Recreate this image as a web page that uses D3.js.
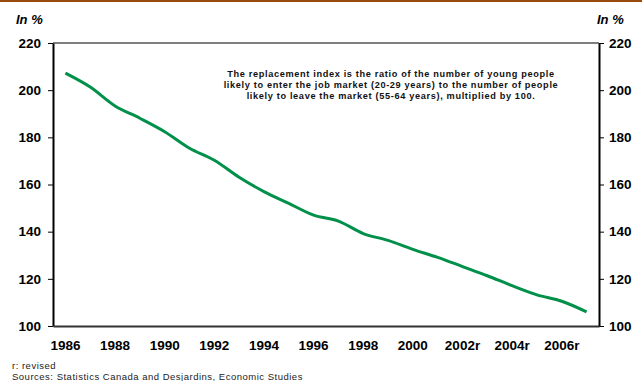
<!DOCTYPE html>
<html><head><meta charset="utf-8">
<script src="https://cdn.jsdelivr.net/npm/d3@7"></script>
<style>
html,body{margin:0;padding:0;background:#fff;}
svg{display:block;font-family:Arial,"Liberation Sans",sans-serif;}
</style></head>
<body><svg id="c" width="642" height="381"></svg>
<script>
const years = ["1986","1987","1988","1989","1990","1991","1992","1993","1994","1995","1996","1997","1998","1999","2000","2001","2002r","2003","2004r","2005","2006r","2007"];
const shownLabels = ["1986","1988","1990","1992","1994","1996","1998","2000","2002r","2004r","2006r"];
const values = [207.2,201.3,193.3,188.1,182.4,175.4,170.3,163.1,157.0,152.0,147.0,144.5,139.2,136.3,132.5,129.1,125.2,121.3,117.1,113.2,110.5,106.0];
const yTicks = [100,120,140,160,180,200,220];
const note = ["The replacement index is the ratio of the number of young people",
              "likely to enter the job market (20-29 years) to the number of people",
              "likely to leave the market (55-64 years), multiplied by 100."];
const footnotes = ["r: revised","Sources: Statistics Canada and Desjardins, Economic Studies"];

const svg = d3.select("#c");
const L=53, R=599, T=43, B=326;
const x = d3.scaleBand().domain(years).range([L,R]).padding(0);
const y = d3.scaleLinear().domain([100,220]).range([B,T]);

// top brown rule
svg.append("rect").attr("x",0).attr("y",0).attr("width",642).attr("height",2).attr("fill","#9a4a0a");

// unit labels
svg.append("text").attr("x",16).attr("y",24).attr("font-size",13).attr("font-weight","bold").attr("font-style","italic").text("In %");
svg.append("text").attr("x",597).attr("y",24).attr("font-size",13).attr("font-weight","bold").attr("font-style","italic").text("In %");

// frame top
svg.append("line").attr("x1",L).attr("x2",R).attr("y1",T).attr("y2",T).attr("stroke","#7f7f7f").attr("stroke-width",2);

// axes
const yl = svg.append("g").attr("transform",`translate(${L},0)`).call(d3.axisLeft(y).tickValues(yTicks).tickSize(5).tickSizeOuter(0).tickPadding(7));
const yr = svg.append("g").attr("transform",`translate(${R},0)`).call(d3.axisRight(y).tickValues(yTicks).tickSize(5).tickSizeOuter(0).tickPadding(5));
[yl,yr].forEach(g=>{
  g.select(".domain").attr("stroke","#000").attr("stroke-width",2);
  g.selectAll(".tick line").attr("stroke","#000").attr("stroke-width",1);
  g.selectAll(".tick text").attr("font-size",13.5).attr("font-weight","bold").attr("fill","#000").attr("font-family","Arial, 'Liberation Sans', sans-serif");
});
const xa = svg.append("g").attr("transform",`translate(0,${B})`).call(d3.axisBottom(x).tickValues(shownLabels).tickSize(0).tickSizeOuter(0).tickPadding(14));
xa.select(".domain").attr("stroke","#333").attr("stroke-width",2);
xa.selectAll(".tick text").attr("font-size",13.5).attr("font-weight","bold").attr("fill","#000").attr("font-family","Arial, 'Liberation Sans', sans-serif");

// line
const line = d3.line().x((d,i)=>x(years[i])+x.bandwidth()/2).y(d=>y(d)).curve(d3.curveMonotoneX);
svg.append("path").datum(values).attr("d",line).attr("fill","none").attr("stroke","#00904a").attr("stroke-width",3).attr("stroke-linejoin","round");

// note
svg.append("g").selectAll("text").data(note).join("text")
  .attr("x",391).attr("y",(d,i)=>77+i*11).attr("text-anchor","middle")
  .attr("font-size",9.2).attr("letter-spacing",0.65).attr("font-weight","bold").attr("fill","#111").text(d=>d);

// footnotes
svg.append("g").selectAll("text").data(footnotes).join("text")
  .attr("x",12).attr("y",(d,i)=>369+i*11).attr("font-size",9.5).attr("letter-spacing",0.5).attr("fill","#222").text(d=>d);
</script></body></html>
